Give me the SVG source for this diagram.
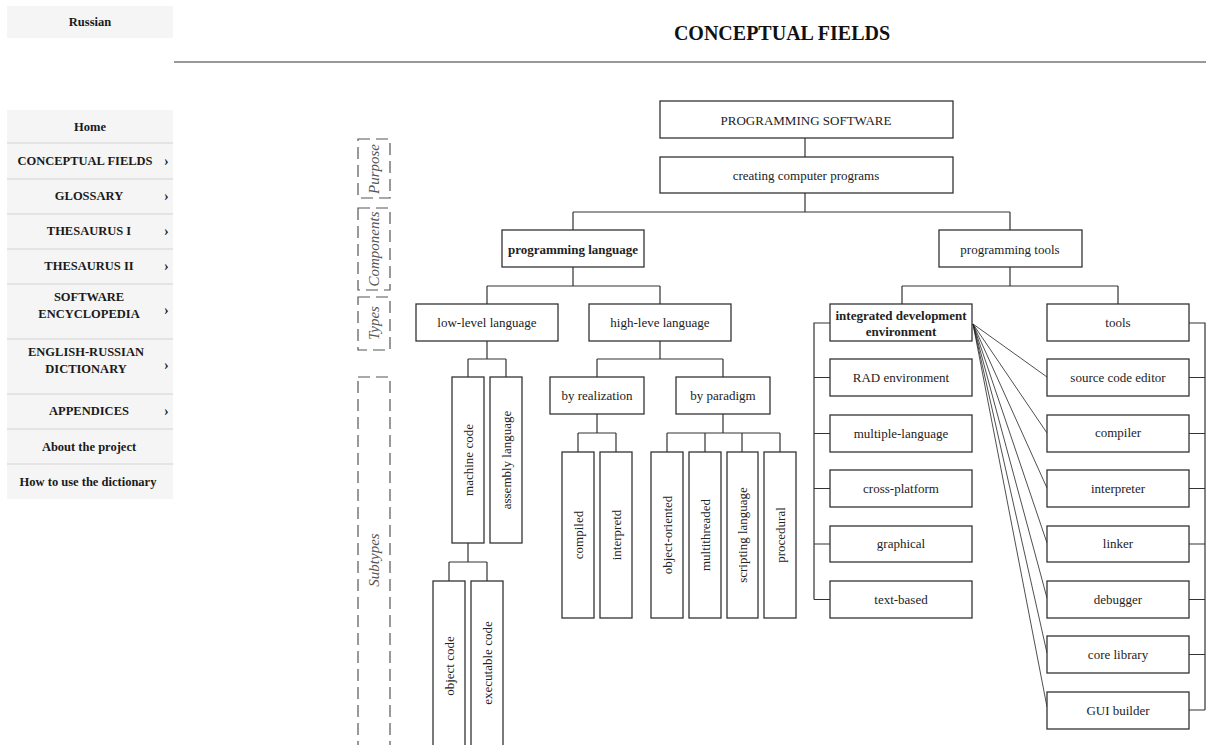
<svg xmlns="http://www.w3.org/2000/svg" width="1206" height="745" viewBox="0 0 1206 745" font-family="Liberation Serif, Times New Roman, serif">
<style>
.side{fill:#f5f5f5}
.sep{stroke:#dedede;stroke-width:1.5}
.mt{font-family:Liberation Serif, serif;font-weight:bold;font-size:12.5px;fill:#1a1a1a;text-anchor:middle}
.arr{font-family:Liberation Serif, serif;font-weight:bold;font-size:14px;fill:#222}
.box{fill:#fff;stroke:#333;stroke-width:1.3}
.t{font-family:Liberation Serif, serif;font-size:13px;fill:#222;text-anchor:middle;dominant-baseline:central}
.tb{font-weight:bold}
.c{fill:none;stroke:#333;stroke-width:1.2}
.f{fill:none;stroke:#222;stroke-width:0.8}
.band{fill:none;stroke:#555;stroke-width:1.2;stroke-dasharray:12,6}
.bl{font-family:Liberation Serif, serif;font-style:italic;font-size:15px;fill:#555;text-anchor:middle;dominant-baseline:central}
</style>

<g id="sidebar">
<rect class="side" x="7" y="6" width="166" height="32"/>
<text class="mt" x="90" y="26">Russian</text>
<rect class="side" x="7" y="110" width="166" height="389"/>
<line class="sep" x1="7" y1="143" x2="173" y2="143"/>
<line class="sep" x1="7" y1="179" x2="173" y2="179"/>
<line class="sep" x1="7" y1="214" x2="173" y2="214"/>
<line class="sep" x1="7" y1="249" x2="173" y2="249"/>
<line class="sep" x1="7" y1="284" x2="173" y2="284"/>
<line class="sep" x1="7" y1="339" x2="173" y2="339"/>
<line class="sep" x1="7" y1="394" x2="173" y2="394"/>
<line class="sep" x1="7" y1="429" x2="173" y2="429"/>
<line class="sep" x1="7" y1="464" x2="173" y2="464"/>
<text class="mt" x="90" y="131">Home</text>
<text class="mt" x="85" y="165">CONCEPTUAL FIELDS</text>
<text class="mt" x="89" y="200">GLOSSARY</text>
<text class="mt" x="89" y="235">THESAURUS I</text>
<text class="mt" x="89" y="270">THESAURUS II</text>
<text class="mt" x="89" y="301">SOFTWARE</text>
<text class="mt" x="89" y="318">ENCYCLOPEDIA</text>
<text class="mt" x="86" y="356">ENGLISH-RUSSIAN</text>
<text class="mt" x="86" y="373">DICTIONARY</text>
<text class="mt" x="89" y="415">APPENDICES</text>
<text class="mt" x="89" y="451">About the project</text>
<text class="mt" x="88" y="486">How to use the dictionary</text>
<text class="arr" x="164" y="166">›</text>
<text class="arr" x="164" y="201">›</text>
<text class="arr" x="164" y="236">›</text>
<text class="arr" x="164" y="271">›</text>
<text class="arr" x="164" y="315">›</text>
<text class="arr" x="164" y="370">›</text>
<text class="arr" x="164" y="416">›</text>
</g>

<g id="title">
<text x="782" y="40" font-weight="bold" font-size="20" fill="#111" text-anchor="middle">CONCEPTUAL FIELDS</text>
<line x1="174" y1="62" x2="1206" y2="62" stroke="#777" stroke-width="1.5"/>
</g>

<g id="bands">
<rect class="band" x="358" y="139" width="32" height="59"/>
<text class="bl" transform="translate(374,169) rotate(-90)">Purpose</text>
<rect class="band" x="358" y="208" width="32" height="82"/>
<text class="bl" transform="translate(374,249) rotate(-90)">Components</text>
<rect class="band" x="358" y="297" width="32" height="53"/>
<text class="bl" transform="translate(374,323) rotate(-90)">Types</text>
<rect class="band" x="358" y="377" width="32" height="390"/>
<text class="bl" transform="translate(374,560) rotate(-90)">Subtypes</text>
</g>

<g id="connectors">
<path class="c" d="M805 138V157M805 193V212M573 212H1010M573 212V230M1010 212V230"/>
<path class="c" d="M573 267V286M487 286H660M487 286V304M660 286V304"/>
<path class="c" d="M1010 267V286M902 286H1118M902 286V304M1118 286V304"/>
<path class="c" d="M487 341V359M468 359H506M468 359V377M506 359V377"/>
<path class="c" d="M468 543V562M449 562H487M449 562V581M487 562V581"/>
<path class="c" d="M660 341V359M597 359H723M597 359V377M723 359V377"/>
<path class="c" d="M597 414V433M578 433H616M578 433V452M616 433V452"/>
<path class="c" d="M723 414V433M667 433H780M667 433V452M705 433V452M742 433V452M780 433V452"/>
<path class="c" d="M830 323H814V599.5M814 377.5H830M814 433.5H830M814 488.5H830M814 544H830M814 599.5H830"/>
<path class="c" d="M1189 323H1205V710M1189 377.5H1205M1189 433.5H1205M1189 488.5H1205M1189 544H1205M1189 599.5H1205M1189 654.5H1205M1189 710H1205"/>
<path class="f" d="M973 324L1047 377M973 324L1047 433M973 324L1047 488M973 324L1047 543M973 324L1047 598M973 324L1047 653M973 324L1047 707"/>
</g>

<g id="n-ps"><rect class="box" x="660" y="101" width="293" height="37"/><text class="t" x="806" y="120" font-size="14">PROGRAMMING SOFTWARE</text></g>
<g id="n-ccp"><rect class="box" x="660" y="157" width="293" height="36"/><text class="t" x="806" y="175">creating computer programs</text></g>
<g id="n-pl"><rect class="box" x="502" y="230" width="142" height="37"/><text class="t tb" x="573" y="249">programming language</text></g>
<g id="n-pt"><rect class="box" x="939" y="230" width="143" height="37"/><text class="t" x="1010" y="249">programming tools</text></g>
<g id="n-ll"><rect class="box" x="416" y="304" width="142" height="37"/><text class="t" x="487" y="322">low-level language</text></g>
<g id="n-hl"><rect class="box" x="589" y="304" width="142" height="37"/><text class="t" x="660" y="322">high-leve language</text></g>
<g id="n-ide"><rect class="box" x="830" y="304" width="142" height="37"/><text class="t tb" x="901" y="315">integrated development</text><text class="t tb" x="901" y="331">environment</text></g>
<g id="n-tools"><rect class="box" x="1047" y="304" width="142" height="37"/><text class="t" x="1118" y="322">tools</text></g>

<g id="n-mc"><rect class="box" x="452" y="377" width="32" height="166"/><text class="t" transform="translate(468,460) rotate(-90)">machine code</text></g>
<g id="n-al"><rect class="box" x="490" y="377" width="32" height="166"/><text class="t" transform="translate(506,460) rotate(-90)">assembly language</text></g>
<g id="n-oc"><rect class="box" x="433" y="581" width="32" height="180"/><text class="t" transform="translate(449,666) rotate(-90)">object code</text></g>
<g id="n-ec"><rect class="box" x="471" y="581" width="32" height="180"/><text class="t" transform="translate(487,663) rotate(-90)">executable code</text></g>

<g id="n-br"><rect class="box" x="550" y="377" width="94" height="37"/><text class="t" x="597" y="395">by realization</text></g>
<g id="n-bp"><rect class="box" x="676" y="377" width="94" height="37"/><text class="t" x="723" y="395">by paradigm</text></g>
<g id="n-comp"><rect class="box" x="562" y="452" width="32" height="166"/><text class="t" transform="translate(578,535) rotate(-90)">compiled</text></g>
<g id="n-int"><rect class="box" x="600" y="452" width="32" height="166"/><text class="t" transform="translate(616,535) rotate(-90)">interpretd</text></g>
<g id="n-oo"><rect class="box" x="651" y="452" width="32" height="166"/><text class="t" transform="translate(667,535) rotate(-90)">object-oriented</text></g>
<g id="n-mt"><rect class="box" x="689" y="452" width="32" height="166"/><text class="t" transform="translate(705,535) rotate(-90)">multithreaded</text></g>
<g id="n-sl"><rect class="box" x="727" y="452" width="31" height="166"/><text class="t" transform="translate(742,535) rotate(-90)">scripting language</text></g>
<g id="n-proc"><rect class="box" x="764" y="452" width="32" height="166"/><text class="t" transform="translate(780,535) rotate(-90)">procedural</text></g>

<g id="n-rad"><rect class="box" x="830" y="359" width="142" height="37"/><text class="t" x="901" y="377">RAD environment</text></g>
<g id="n-ml"><rect class="box" x="830" y="415" width="142" height="37"/><text class="t" x="901" y="433">multiple-language</text></g>
<g id="n-cp"><rect class="box" x="830" y="470" width="142" height="37"/><text class="t" x="901" y="488">cross-platform</text></g>
<g id="n-gr"><rect class="box" x="830" y="526" width="142" height="36"/><text class="t" x="901" y="543">graphical</text></g>
<g id="n-tb"><rect class="box" x="830" y="581" width="142" height="37"/><text class="t" x="901" y="599">text-based</text></g>

<g id="n-sce"><rect class="box" x="1047" y="359" width="142" height="37"/><text class="t" x="1118" y="377">source code editor</text></g>
<g id="n-cmp"><rect class="box" x="1047" y="415" width="142" height="37"/><text class="t" x="1118" y="432">compiler</text></g>
<g id="n-intp"><rect class="box" x="1047" y="470" width="142" height="37"/><text class="t" x="1118" y="488">interpreter</text></g>
<g id="n-lnk"><rect class="box" x="1047" y="526" width="142" height="36"/><text class="t" x="1118" y="543">linker</text></g>
<g id="n-dbg"><rect class="box" x="1047" y="581" width="142" height="37"/><text class="t" x="1118" y="599">debugger</text></g>
<g id="n-cl"><rect class="box" x="1047" y="636" width="142" height="37"/><text class="t" x="1118" y="654">core library</text></g>
<g id="n-gui"><rect class="box" x="1047" y="692" width="142" height="37"/><text class="t" x="1118" y="710">GUI builder</text></g>
</svg>
